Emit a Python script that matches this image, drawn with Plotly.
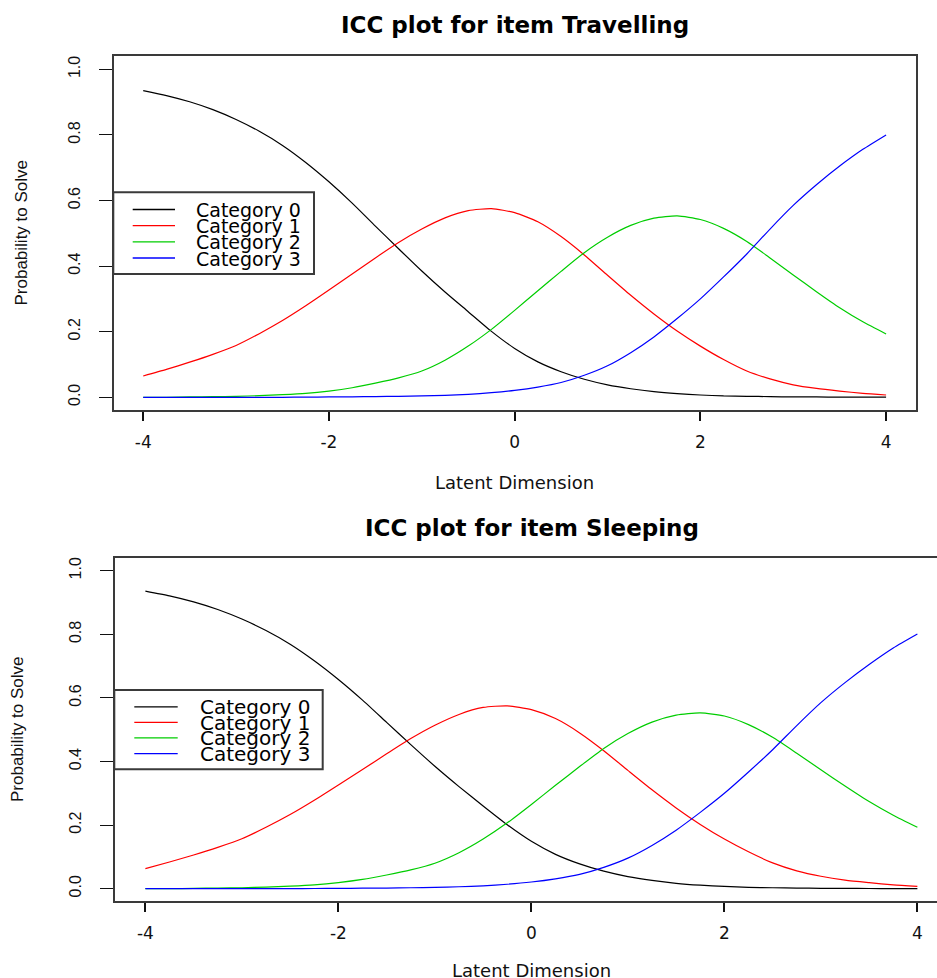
import plotly.graph_objects as go

# Latent trait grid (step 0.25)
theta = [-4.0, -3.75, -3.5, -3.25, -3.0, -2.75, -2.5, -2.25, -2.0, -1.75, -1.5,
         -1.25, -1.0, -0.75, -0.5, -0.25, 0.0, 0.25, 0.5, 0.75, 1.0, 1.25, 1.5,
         1.75, 2.0, 2.25, 2.5, 2.75, 3.0, 3.25, 3.5, 3.75, 4.0]

# Item "Travelling": category response probabilities
trav_cat0 = [0.935, 0.920, 0.901, 0.877, 0.847, 0.811, 0.768, 0.716, 0.657, 0.592, 0.522,
             0.453, 0.385, 0.321, 0.261, 0.201, 0.149, 0.108, 0.078, 0.055, 0.038, 0.026, 0.017,
             0.011, 0.007, 0.004, 0.003, 0.002, 0.001, 0.001, 0.0005, 0.0003, 0.0002]
trav_cat1 = [0.065, 0.085, 0.107, 0.131, 0.158, 0.194, 0.234, 0.279, 0.327, 0.376, 0.425,
             0.472, 0.513, 0.547, 0.569, 0.575, 0.563, 0.535, 0.490, 0.434, 0.372, 0.311, 0.254,
             0.202, 0.156, 0.115, 0.080, 0.056, 0.038, 0.027, 0.019, 0.012, 0.007]
trav_cat2 = [0.000, 0.000, 0.001, 0.002, 0.003, 0.005, 0.008, 0.012, 0.019, 0.029, 0.043,
             0.059, 0.080, 0.113, 0.156, 0.207, 0.265, 0.325, 0.384, 0.441, 0.488, 0.524, 0.546,
             0.553, 0.542, 0.515, 0.475, 0.425, 0.373, 0.322, 0.273, 0.230, 0.193]
trav_cat3 = [0.000, 0.000, 0.000, 0.000, 0.000, 0.000, 0.000, 0.0005, 0.001, 0.0015, 0.002,
             0.003, 0.004, 0.006, 0.009, 0.014, 0.021, 0.031, 0.045, 0.067, 0.096, 0.136, 0.184,
             0.240, 0.300, 0.367, 0.437, 0.513, 0.585, 0.648, 0.705, 0.756, 0.800]

# Item "Sleeping": category response probabilities
sleep_cat0 = [0.936, 0.921, 0.902, 0.878, 0.848, 0.812, 0.769, 0.717, 0.658, 0.593, 0.523,
              0.453, 0.385, 0.321, 0.260, 0.201, 0.149, 0.108, 0.078, 0.055, 0.038, 0.026, 0.017,
              0.011, 0.007, 0.004, 0.003, 0.002, 0.001, 0.001, 0.0005, 0.0003, 0.0002]
sleep_cat1 = [0.063, 0.084, 0.106, 0.130, 0.157, 0.193, 0.233, 0.278, 0.326, 0.375, 0.424,
              0.472, 0.514, 0.548, 0.570, 0.575, 0.563, 0.535, 0.490, 0.434, 0.372, 0.311, 0.254,
              0.202, 0.156, 0.116, 0.081, 0.056, 0.039, 0.027, 0.019, 0.012, 0.007]
sleep_cat2 = [0.000, 0.000, 0.001, 0.002, 0.003, 0.005, 0.008, 0.012, 0.019, 0.029, 0.043,
              0.059, 0.080, 0.113, 0.156, 0.207, 0.265, 0.325, 0.384, 0.441, 0.488, 0.524, 0.546,
              0.553, 0.543, 0.516, 0.476, 0.426, 0.374, 0.323, 0.274, 0.231, 0.193]
sleep_cat3 = [0.000, 0.000, 0.000, 0.000, 0.000, 0.000, 0.000, 0.0005, 0.001, 0.0015, 0.002,
              0.003, 0.004, 0.006, 0.009, 0.014, 0.021, 0.031, 0.045, 0.067, 0.096, 0.136, 0.184,
              0.240, 0.300, 0.367, 0.437, 0.513, 0.585, 0.648, 0.705, 0.757, 0.801]

items = ["Travelling", "Sleeping"]
categories = ["Category 0", "Category 1", "Category 2", "Category 3"]
colors = ["#000000", "#FF0000", "#00CD00", "#0000FF"]
x_ticks = [-4, -2, 0, 2, 4]
y_ticks = [0.0, 0.2, 0.4, 0.6, 0.8, 1.0]

W, H = 937, 978


def fx(px):
    return px / W


def fy(py):
    return 1 - py / H


fig = go.Figure()

series = [
    ("x", "y", [trav_cat0, trav_cat1, trav_cat2, trav_cat3]),
    ("x2", "y2", [sleep_cat0, sleep_cat1, sleep_cat2, sleep_cat3]),
]
for xa, ya, cats in series:
    for name, vals, col in zip(categories, cats, colors):
        fig.add_trace(go.Scatter(
            x=theta, y=vals, mode="lines", name=name,
            line=dict(color=col, width=1.2, shape="spline", smoothing=0.6),
            xaxis=xa, yaxis=ya, showlegend=False, hoverinfo="skip",
        ))

frame = "#3a3a3a"
xfont = dict(family="DejaVu Sans", size=17, color="#111111")
yfont = dict(family="Liberation Sans", size=16, color="#111111")

common_x = dict(
    tickmode="array", tickvals=x_ticks, ticktext=[str(v) for v in x_ticks],
    ticks="outside", ticklen=9, tickwidth=2, tickcolor="#111111",
    showline=True, linecolor=frame, linewidth=2,
    showgrid=False, zeroline=False, tickfont=xfont, ticklabelstandoff=6,
)
common_y = dict(
    tickmode="array", tickvals=y_ticks, ticktext=[f"{v:.1f}" for v in y_ticks],
    ticks="outside", ticklen=13, tickwidth=1, tickcolor="#111111",
    showline=True, linecolor=frame, linewidth=2, tickangle=-90,
    showgrid=False, zeroline=False, tickfont=yfont, ticklabelstandoff=12,
    range=[-0.04, 1.04],
)

# Top panel box (pixels): x 113.5..915.8, y 56.2..410.4
# Bottom panel box: x 114.5..(past right edge), y 558..901.4
fig.update_layout(
    width=W, height=H,
    margin=dict(l=0, r=0, t=0, b=0),
    paper_bgcolor="white", plot_bgcolor="white",
    xaxis=dict(common_x, domain=[fx(113.5), fx(915.8)], range=[-4.32, 4.32],
               anchor="y", mirror=True),
    yaxis=dict(common_y, domain=[fy(410.4), fy(56.2)], anchor="x", mirror=True),
    xaxis2=dict(common_x, domain=[fx(114.5), 1.0],
                range=[-4.32, -4.32 + (W - 114.5) / 96.5],
                anchor="y2", mirror=True),
    yaxis2=dict(common_y, domain=[fy(901.4), fy(558.0)], anchor="x2", mirror=False),
)

annotations = []
shapes = []

# Titles and axis labels
title_font = dict(family="DejaVu Sans", size=23, color="#000000")
lab_font = dict(family="DejaVu Sans", size=18, color="#111111")
ylab_font = dict(family="Liberation Sans", size=17, color="#111111")

panels = [
    dict(item=items[0], cx=514.6, title_y=25.0, xlab_y=482.0, ylab_x=20.5, ylab_y=233.0,
         leg_box=(113.3, 192.3, 314.0, 274.0), leg_line=(132.7, 175.0), leg_text_x=194.0,
         leg_rows=[209.5, 225.7, 241.8, 258.0], leg_size=19),
    dict(item=items[1], cx=531.7, title_y=527.5, xlab_y=970.0, ylab_x=17.5, ylab_y=729.5,
         leg_box=(114.3, 690.0, 322.7, 769.3), leg_line=(134.3, 177.7), leg_text_x=197.5,
         leg_rows=[706.9, 722.3, 737.8, 753.6], leg_size=20),
]

for p in panels:
    annotations.append(dict(
        text=f"<b>ICC plot for item {p['item']}</b>", x=fx(p["cx"]), y=fy(p["title_y"]),
        xref="paper", yref="paper", xanchor="center", yanchor="middle",
        showarrow=False, font=title_font))
    annotations.append(dict(
        text="Latent Dimension", x=fx(p["cx"]), y=fy(p["xlab_y"]),
        xref="paper", yref="paper", xanchor="center", yanchor="middle",
        showarrow=False, font=lab_font))
    annotations.append(dict(
        text="Probability to Solve", x=fx(p["ylab_x"]), y=fy(p["ylab_y"]),
        xref="paper", yref="paper", xanchor="center", yanchor="middle",
        textangle=-90, showarrow=False, font=ylab_font))

    x0, y0, x1, y1 = p["leg_box"]
    shapes.append(dict(type="rect", xref="paper", yref="paper",
                       x0=fx(x0), x1=fx(x1), y0=fy(y1), y1=fy(y0),
                       line=dict(color=frame, width=2), fillcolor="white", layer="above"))
    lx0, lx1 = p["leg_line"]
    for name, col, ry in zip(categories, colors, p["leg_rows"]):
        shapes.append(dict(type="line", xref="paper", yref="paper",
                           x0=fx(lx0), x1=fx(lx1), y0=fy(ry), y1=fy(ry),
                           line=dict(color=col, width=1.3), layer="above"))
        annotations.append(dict(
            text=name, x=fx(p["leg_text_x"]), y=fy(ry + 0.5),
            xref="paper", yref="paper", xanchor="left", yanchor="middle",
            showarrow=False,
            font=dict(family="DejaVu Sans", size=p["leg_size"], color="#000000")))

fig.update_layout(annotations=annotations, shapes=shapes)

fig.write_html("out.html")
